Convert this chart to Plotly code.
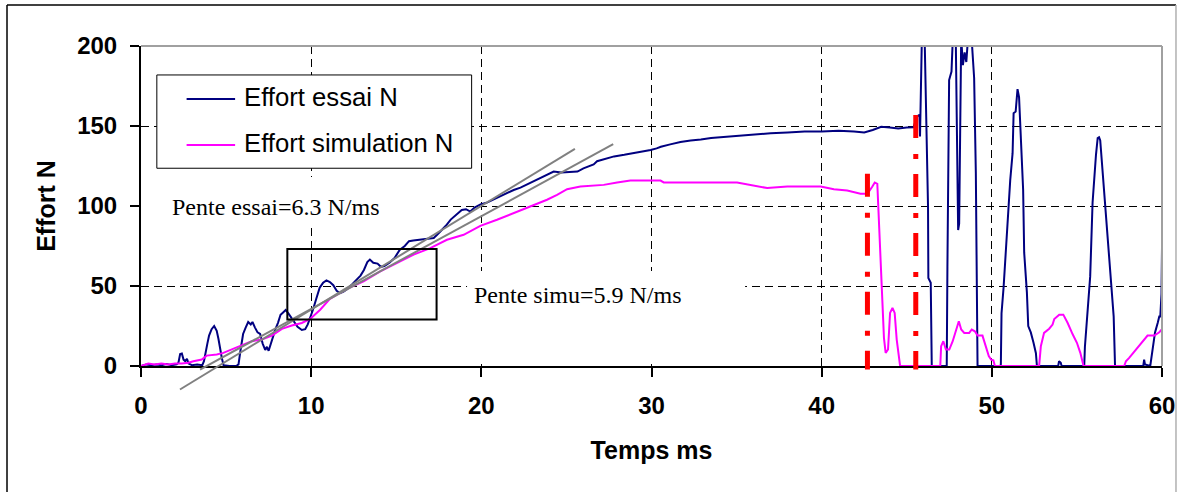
import plotly.graph_objects as go

# ---------------- data ----------------
essai_t = [0, 0.3, 0.6, 0.9, 1.2, 1.5, 1.8, 2.1, 2.2, 2.3, 2.4, 2.5, 2.6, 2.7, 2.8, 3.0, 3.3, 3.6,
           3.7, 3.8, 3.9, 4.0, 4.15, 4.3, 4.45, 4.55, 4.65, 4.75, 4.85, 5.2, 5.6, 5.73,
           5.85, 6.0, 6.15, 6.3, 6.45, 6.55, 6.7, 6.85, 7.0, 7.15, 7.3, 7.4, 7.5, 7.6, 7.75, 7.9,
           8.05, 8.2, 8.35, 8.5, 8.65, 8.8, 9.0, 9.2, 9.45, 9.65, 9.8, 9.95, 10.1, 10.3, 10.5,
           10.7, 10.9, 11.1, 11.3, 11.5, 11.7, 11.9, 12.1, 12.4, 12.7, 12.9, 13.1, 13.3, 13.45,
           13.65, 13.9, 14.1, 14.3, 14.6, 14.9, 15.2, 15.5, 15.75, 16.0, 16.4, 16.8, 17.2, 17.4,
           17.6, 17.9, 18.2, 18.5, 18.85, 19.1, 19.35, 19.6, 19.95, 20.3, 20.7, 21.0, 21.4, 21.9,
           22.3, 22.7, 23.1, 23.5, 23.9, 24.25, 24.7, 25.2, 25.65, 26.0, 26.25, 26.6, 26.8, 27.3,
           27.8, 28.4, 29.0, 29.5, 29.95, 30.3, 30.55, 31.1, 31.7, 32.3, 32.9, 33.5, 34.1, 35.0,
           36.0, 37.0, 38.0, 39.0, 40.0, 41.0, 41.9, 42.5, 43.0, 43.5, 44.0, 44.5, 45.0, 45.4,
           45.6, 45.75, 45.78, 45.86, 45.95, 46.06, 46.25, 46.27, 46.41, 46.47, 46.8, 47.35,
           47.39, 47.49, 47.63, 47.72, 47.8, 47.88, 47.94, 48.02, 48.08, 48.15, 48.2, 48.3, 48.4,
           48.5, 48.6, 48.75, 48.85, 48.96, 49.06, 49.16, 49.5, 50.0, 50.5, 50.53, 50.57, 50.69,
           50.82, 50.96, 51.08, 51.22, 51.28, 51.4, 51.51, 51.6, 51.71, 51.84, 51.9, 52.06, 52.14,
           52.29, 52.45, 52.59, 52.65, 53.5, 53.9, 53.95, 54.05, 54.1, 55.0, 55.43, 55.47, 55.63,
           55.78, 55.92, 56.02, 56.12, 56.22, 56.3, 56.37, 56.45, 56.61, 56.76, 56.92, 57.04,
           57.16, 57.24, 58.0, 58.9, 58.95, 59.0, 59.31, 59.45, 59.59, 59.75, 59.84, 59.9, 59.97,
           60.0]
essai_n = [0, 1, 0.5, 1, 0.5, 1.2, 0.5, 1, 2, 7.5, 7.8, 4, 3, 4.5, 1.5, 0.5, 1, 0.5,
           3, 10, 14, 19, 23, 25, 22, 17, 10, 5, 0.5, 0, 0, 1,
           10, 20, 24, 27.5, 26, 27.5, 24, 21, 20, 14, 10, 12, 9.5, 13, 18, 23,
           27, 32, 33.5, 35, 33, 30.5, 27, 24.5, 22.5, 23, 26, 30, 35, 42, 49,
           52, 53.5, 52.5, 50.5, 47, 45.5, 46.5, 48, 51, 54, 56.5, 60, 65, 66.5,
           64.5, 64, 62, 62.5, 64.5, 67.5, 72.5, 75, 78, 78.5, 79, 79.5, 80, 82,
           84, 87.5, 91.5, 94, 97.5, 98, 96.5, 99, 101, 102, 104, 106, 108, 110,
           111.5, 113.5, 115.5, 117.5, 119.5, 121.5, 121, 121.5, 121.5, 123.5, 124.5, 126, 128, 129.5,
           131, 132, 133, 134, 135, 136, 137, 138.5, 140, 141, 141.5, 142.5, 143, 144,
           145, 145.5, 146, 146.5, 146.5, 147, 146.5, 146, 147.5, 149.5, 149, 148.5, 149, 149.2,
           156, 157, 143.5, 200, 240, 200, 100, 55, 52, 0, 0, 0,
           62, 178.7, 184, 215, 230, 205, 141, 85, 89, 160, 205, 188, 196,
           190, 205, 215, 200, 180, 120.5, 0, 0, 0, 0, 1, 33, 49,
           74, 100, 116, 133, 158, 159, 173, 168, 143, 110, 71, 46, 25,
           21, 14.5, 8, 0, 0, 0, 3, 2, 0, 0, 0, 12, 33,
           56, 102, 120, 132, 142.5, 143, 141, 130, 108, 87, 68.5, 48,
           31, 0, 0, 0, 4, 1, 0, 10, 21, 27, 31, 31, 45,
           74]

simu_t = [0, 0.43, 0.8, 1.2, 1.6, 2.0, 2.4, 2.78, 3.08, 3.57, 3.86, 4.45, 4.84, 5.33, 5.92,
          6.51, 7.1, 7.69, 8.28, 8.86, 9.45, 9.94, 10.53, 11.1, 12.1, 13.08, 14.06, 15.04,
          16.02, 17.0, 17.98, 18.96, 19.94, 20.92, 21.9, 22.88, 23.86, 24.45, 25.04, 25.82,
          27.19, 27.98, 28.76, 30.53, 30.72, 35.03, 36.02, 36.8, 37.98, 39.94, 40.72, 41.5,
          42.28, 42.69, 42.98, 43.12, 43.27, 43.37, 43.51, 43.57, 43.66, 43.76, 43.9, 44.02,
          44.16, 44.29, 44.41, 44.61, 46.97, 47.02, 47.15, 47.3, 47.5, 47.7, 47.94, 48.06,
          48.2, 48.38, 48.67, 48.82, 49.0, 49.16, 49.45, 49.62, 49.82, 49.96, 50.09, 50.18,
          52.78, 52.88, 53.07, 53.37, 53.57, 53.67, 53.96, 54.2, 54.45, 54.75, 55.0, 55.2,
          55.39, 57.78, 57.88, 58.07, 58.47, 58.86, 59.15, 59.55, 59.84, 60.0]
simu_n = [0, 1.6, 1, 1.5, 1, 1.5, 1.5, 2, 3, 4, 6.5, 7.2, 8.2, 10.3, 12.8,
          15.5, 16.5, 19, 23.2, 25.3, 26.9, 29.4, 35.2, 42, 48.2, 52.9, 59.1, 64.4,
          69.6, 73.7, 78.9, 82, 87.6, 91.4, 95.6, 99.7, 103.9, 107, 110.5, 112.2,
          113.2, 114.7, 115.9, 115.9, 114.7, 114.7, 112.6, 111.2, 112.2, 112.2, 110.5, 109.7,
          107.6, 107.6, 112.2, 114.7, 113.9, 87.2, 58.1, 41.5, 17.6, 8.2, 10.3, 33.2,
          36.3, 33.2, 16.5, 0, 0, 12.4, 15.5, 10.3, 10.3, 15.5, 24.8, 28,
          22.8, 20.7, 20.7, 22.8, 21.7, 19, 19, 12.4, 6.2, 4, 3.6, 0,
          0, 12.4, 20.7, 23.3, 25.9, 29.4, 32.1, 32.1, 27, 19.8, 14.5, 8.2,
          0, 0, 3, 5.1, 10.3, 15.5, 19, 19, 21.1, 23]

# slope lines (ms, N) and event markers
pente_essai_t = [2.29, 25.5]
pente_essai_n = [-14.7, 135.7]
pente_simu_t = [3.47, 27.75]
pente_simu_n = [-2.2, 138.6]
event_t = [42.69, 45.53]
event_top_n = [120.1, 156.9]
event_bottom_n = [-2.2, -2.2]
zoom_box_t = [8.6, 17.37]
zoom_box_n = [29.0, 73.1]

x_ticks = [0, 10, 20, 30, 40, 50, 60]
y_ticks = [0, 50, 100, 150, 200]

SANS = "Liberation Sans, Arial, sans-serif"
SERIF = "Liberation Serif, Times New Roman, serif"
NAVY = "#000080"
MAGENTA = "#FF00FF"

fig = go.Figure()
fig.add_trace(go.Scatter(x=essai_t, y=essai_n, mode="lines", name="Effort essai N",
                         line=dict(color=NAVY, width=2)))
fig.add_trace(go.Scatter(x=simu_t, y=simu_n, mode="lines", name="Effort simulation N",
                         line=dict(color=MAGENTA, width=2)))

def yp(n):
    return n / 200.0

shapes = []
# white boxes behind the slope labels (hide grid)
shapes.append(dict(type="rect", xref="x", yref="y", x0=0, x1=17.1, y0=86.9, y1=118.1,
                   fillcolor="white", line=dict(width=0), layer="between"))
shapes.append(dict(type="rect", xref="x", yref="y", x0=19.16, x1=35.5, y0=1.25, y1=59.4,
                   fillcolor="white", line=dict(width=0), layer="between"))
# slope lines
shapes.append(dict(type="line", xref="x", yref="paper",
                   x0=pente_essai_t[0], x1=pente_essai_t[1],
                   y0=yp(pente_essai_n[0]), y1=yp(pente_essai_n[1]),
                   line=dict(color="#808080", width=2)))
shapes.append(dict(type="line", xref="x", yref="paper",
                   x0=pente_simu_t[0], x1=pente_simu_t[1],
                   y0=yp(pente_simu_n[0]), y1=yp(pente_simu_n[1]),
                   line=dict(color="#808080", width=2)))
# zoom rectangle
shapes.append(dict(type="rect", xref="x", yref="y", x0=zoom_box_t[0], x1=zoom_box_t[1],
                   y0=zoom_box_n[0], y1=zoom_box_n[1], line=dict(color="black", width=2)))
# red event lines
for t, top, bot in zip(event_t, event_top_n, event_bottom_n):
    shapes.append(dict(type="line", xref="x", yref="paper", x0=t, x1=t,
                       y0=yp(top), y1=yp(bot),
                       line=dict(color="#FF0000", width=5, dash="23px,16px,5px,15px")))
# legend box and samples
shapes.append(dict(type="rect", xref="x", yref="y", x0=0.93, x1=19.43, y0=123.6, y1=181.9,
                   fillcolor="white", line=dict(color="black", width=1), layer="above"))
shapes.append(dict(type="line", xref="x", yref="y", x0=2.68, x1=5.53, y0=166.9, y1=166.9,
                   line=dict(color=NAVY, width=2)))
shapes.append(dict(type="line", xref="x", yref="y", x0=2.68, x1=5.53, y0=138.1, y1=138.1,
                   line=dict(color=MAGENTA, width=2)))
# plot frame (top/right grey)
shapes.append(dict(type="line", xref="paper", yref="paper", x0=0, x1=1, y0=1, y1=1,
                   line=dict(color="#a0a0a0", width=2)))
shapes.append(dict(type="line", xref="paper", yref="paper", x0=1, x1=1, y0=0, y1=1,
                   line=dict(color="#a0a0a0", width=2)))
# outer chart border
shapes.append(dict(type="line", xref="paper", yref="paper", x0=-0.13124, x1=-0.13124,
                   y0=1.128, y1=-0.42, line=dict(color="black", width=1.5)))
shapes.append(dict(type="line", xref="paper", yref="paper", x0=-0.13124, x1=1.0137,
                   y0=1.128, y1=1.128, line=dict(color="black", width=1.5)))
shapes.append(dict(type="line", xref="paper", yref="paper", x0=1.0137, x1=1.0137,
                   y0=1.128, y1=-0.42, line=dict(color="#b0b0b0", width=1.5)))

annotations = [
    dict(text="Pente essai=6.3 N/ms", x=1.70, y=99.4, xref="x", yref="y",
         xanchor="left", yanchor="middle", showarrow=False,
         font=dict(family=SERIF, size=24, color="black")),
    dict(text="Pente simu=5.9 N/ms", x=19.43, y=44.4, xref="x", yref="y",
         xanchor="left", yanchor="middle", showarrow=False,
         font=dict(family=SERIF, size=24, color="black")),
    dict(text="Effort essai N", x=5.92, y=168.2, xref="x", yref="y",
         xanchor="left", yanchor="middle", showarrow=False,
         font=dict(family=SANS, size=25.7, color="black")),
    dict(text="Effort simulation N", x=5.92, y=139.4, xref="x", yref="y",
         xanchor="left", yanchor="middle", showarrow=False,
         font=dict(family=SANS, size=25.7, color="black")),
]

axis_common = dict(showline=True, linecolor="black", linewidth=2, ticks="outside",
                   ticklen=9, tickwidth=1.5, tickcolor="black", showgrid=True,
                   gridcolor="black", gridwidth=1, griddash="8px,5px", zeroline=False,
                   automargin=False,
                   tickfont=dict(family=SANS, size=24, color="black", weight="bold"))

fig.update_layout(
    width=1178, height=492,
    margin=dict(l=141, r=16, t=46, b=126),
    paper_bgcolor="white", plot_bgcolor="white",
    showlegend=False,
    shapes=shapes, annotations=annotations,
    xaxis=dict(range=[0, 60], tickvals=x_ticks, ticklabelstandoff=8,
               title=dict(text="Temps ms", standoff=24,
                          font=dict(family=SANS, size=25, color="black", weight="bold")),
               **axis_common),
    yaxis=dict(range=[0, 200], tickvals=y_ticks, ticklabelstandoff=8,
               title=dict(text="Effort N", standoff=14,
                          font=dict(family=SANS, size=25, color="black", weight="bold")),
               **axis_common),
)

fig.write_html("out.html", config={"displayModeBar": False},
               post_script="document.body.style.margin='0';document.body.style.overflow='hidden';")
